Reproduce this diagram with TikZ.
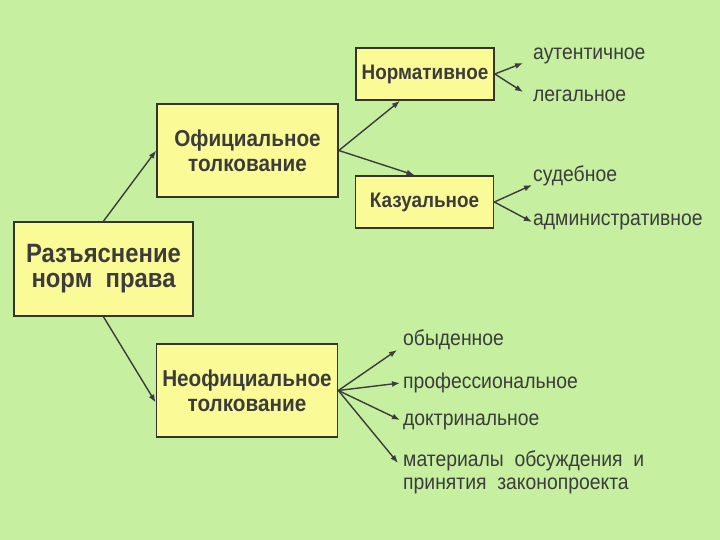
\documentclass[tikz,border=0pt]{standalone}
\usepackage{fontspec}
\setmainfont{Liberation Sans}[FakeStretch=0.9]
\usetikzlibrary{arrows.meta,positioning}
\definecolor{tlkBack}{HTML}{C6EFA0}
\definecolor{tlkFill}{HTML}{FAFA96}
\definecolor{tlkEdge}{HTML}{34342A}
\definecolor{tlkInk}{HTML}{3C3C3C}
\tikzset{
  rootbox/.style={rectangle,draw=tlkEdge,fill=tlkFill,line width=1.7pt,
    minimum width=179pt,minimum height=94pt,align=center,text=tlkInk,
    font=\bfseries\fontsize{26.5}{25}\selectfont},
  kindbox/.style={rectangle,draw=tlkEdge,fill=tlkFill,line width=1.7pt,
    minimum width=181pt,minimum height=93pt,align=center,text=tlkInk,
    font=\bfseries\fontsize{23}{25}\selectfont},
  subbox/.style={rectangle,draw=tlkEdge,fill=tlkFill,line width=1.7pt,
    minimum width=138pt,minimum height=52pt,align=center,text=tlkInk,
    font=\bfseries\fontsize{21}{22}\selectfont},
  leaf/.style={anchor=west,inner sep=1pt,align=left,text=tlkInk,
    font=\fontsize{21.5}{23}\selectfont},
  arrow/.style={-{Latex[length=8pt,width=6pt]},line width=1.4pt,draw=tlkInk}
}
\begin{document}
\begin{tikzpicture}[x=1pt,y=-1pt]
  \useasboundingbox (0,0) rectangle (720,540);
  \fill[tlkBack] (0,0) rectangle (720,540);
  % boxes
  \node[rootbox] (r) at (103.5,269) {Разъяснение\\норм\ \ права};
  \node[kindbox] (o) at (247.5,150.5) {Официальное\\толкование};
  \node[kindbox] (u) at (247,390.5) {Неофициальное\\толкование};
  \node[subbox] (n) at (425,74) {Нормативное};
  \node[subbox] (k) at (424.5,202) {Казуальное};
  % leaves
  \node[leaf] (n1) at (532,56) {аутентичное};
  \node[leaf] (n2) at (532,96) {легальное};
  \node[leaf] (k1) at (532,176) {судебное};
  \node[leaf] (k2) at (532,222) {административное};
  \node[leaf] (u1) at (402,340) {обыденное};
  \node[leaf] (u2) at (402,383) {профессиональное};
  \node[leaf] (u3) at (402,422) {доктринальное};
  \node[leaf] (u4) at (402,472) {материалы\ \ обсуждения\ \ и\\принятия\ \ законопроекта};
  % connectors
  \draw[arrow] (r.north) -- (o.west);
  \draw[arrow] (r.south) -- ([yshift=-12pt]u.west);
  \draw[arrow] (o.east) -- ([xshift=-25pt]n.south);
  \draw[arrow] (o.east) -- ([xshift=-10pt]k.north);
  \draw[arrow] (n.east) -- ([xshift=-9pt,yshift=-7pt]n1.west);
  \draw[arrow] (n.east) -- ([xshift=-9pt,yshift=4pt]n2.west);
  \draw[arrow] (k.east) -- ([yshift=-9pt]k1.west);
  \draw[arrow] (k.east) -- (k2.west);
  \draw[arrow] (u.east) -- ([xshift=-5pt,yshift=-10pt]u1.west);
  \draw[arrow] (u.east) -- ([xshift=-2pt]u2.west);
  \draw[arrow] (u.east) -- ([xshift=-2pt,yshift=2pt]u3.west);
  \draw[arrow] (u.east) -- ([xshift=-4pt,yshift=9pt]u4.west);
\end{tikzpicture}
\end{document}
